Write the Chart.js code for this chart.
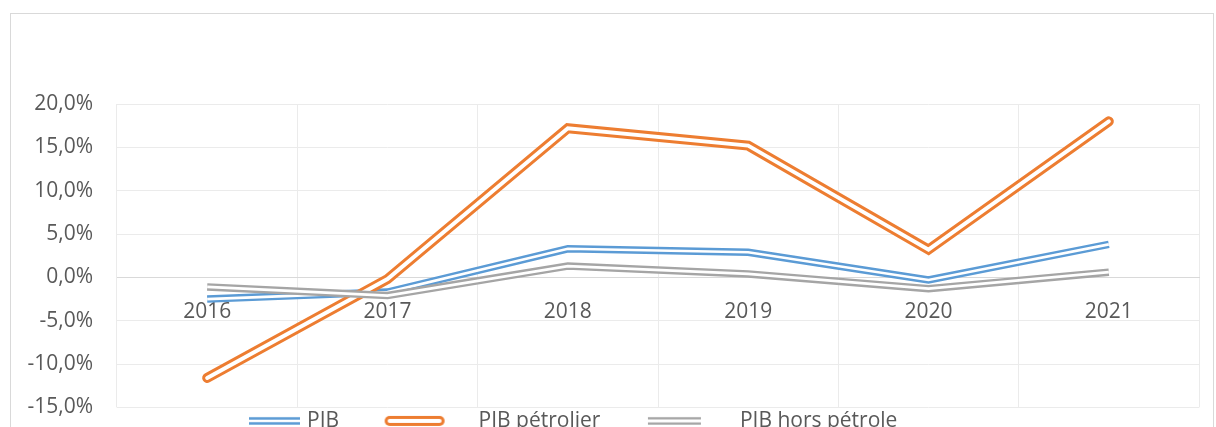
<!DOCTYPE html>
<html>
<head>
<meta charset="utf-8">
<script src="https://cdn.jsdelivr.net/npm/chart.js@4.4.0/dist/chart.umd.min.js"></script>
<style>
  html, body { margin: 0; padding: 0; background: #fff; overflow: hidden; }
  canvas { display: block; }
</style>
</head>
<body>
<canvas id="chart" width="1216" height="444"></canvas>
<script>
// values in %
const labels = ['2016', '2017', '2018', '2019', '2020', '2021']
const pib = [-2.5, -1.7, 3.3, 2.9, -0.3, 3.8]
const pibPetrolier = [-11.6, -0.2, 17.2, 15.2, 3.2, 18.0]
const pibHorsPetrole = [-1.1, -2.1, 1.3, 0.4, -1.3, 0.6]
const yTicks = [-15, -10, -5, 0, 5, 10, 15, 20]

const blue = '#5B9BD5'
const orange = '#ED7D31'
const grey = '#A5A5A5'
const textColor = '#595959'
const font = { family: 'Open Sans', size: 21 }

// small canvas used as legend symbol (double line), shifted by offset
function legendMark(color, total, gap, len, offset, cap) {
    const c = document.createElement('canvas')
    c.width = 2 * (Math.abs(offset) + len / 2 + 8)
    c.height = 16
    const g = c.getContext('2d')
    const cx = c.width / 2 + offset
    const cy = c.height / 2
    const inset = cap === 'round' ? total / 2 : 0
    g.lineCap = cap
    const strokes = [[color, total], ['#ffffff', gap]]
    strokes.forEach(([col, w]) => {
        g.strokeStyle = col
        g.lineWidth = w
        g.beginPath()
        g.moveTo(cx - len / 2 + inset, cy)
        g.lineTo(cx + len / 2 - inset, cy)
        g.stroke()
    })
    return c
}

const marks = [
    legendMark(blue, 7.5, 2.7, 51, 41, 'butt'),
    legendMark(orange, 10, 4, 60, 9.5, 'round'),
    legendMark(grey, 7.5, 2.8, 53, 8, 'butt')
]

// white line on top of each series -> excel "double" line
const doubleLine = {
    id: 'doubleLine',
    afterDatasetDraw(chart, args) {
        const line = args.meta.dataset
        const gap = chart.data.datasets[args.index].gapWidth
        if (!line || !gap) return
        const saved = line.options
        line.options = Object.assign({}, saved, { borderColor: '#ffffff', borderWidth: gap })
        line.draw(chart.ctx, chart.chartArea)
        line.options = saved
    }
}

const frame = {
    id: 'frame',
    beforeDraw(chart) {
        const ctx = chart.ctx
        ctx.save()
        ctx.fillStyle = '#ffffff'
        ctx.fillRect(0, 0, chart.width, chart.height)
        ctx.strokeStyle = '#D9D9D9'
        ctx.lineWidth = 1
        ctx.strokeRect(10.5, 13.5, 1203, 460)
        ctx.restore()
    }
}

const legendShift = {
    id: 'legendShift',
    afterLayout(chart) {
        const lg = chart.legend
        lg.left = 167.5
        lg.right = 1500
        lg.width = lg.right - lg.left
    }
}

new Chart(document.getElementById('chart'), {
    type: 'line',
    data: {
        labels: labels,
        datasets: [
            { label: 'PIB', data: pib, borderColor: blue, backgroundColor: blue, borderWidth: 7.5, gapWidth: 2.7, borderCapStyle: 'butt', order: 3 },
            { label: 'PIB pétrolier', data: pibPetrolier, borderColor: orange, backgroundColor: orange, borderWidth: 10, gapWidth: 4, borderCapStyle: 'round', order: 2 },
            { label: 'PIB hors pétrole', data: pibHorsPetrole, borderColor: grey, backgroundColor: grey, borderWidth: 7.5, gapWidth: 2.8, borderCapStyle: 'butt', order: 1 }
        ]
    },
    options: {
        responsive: false,
        animation: false,
        events: [],
        layout: { padding: { top: 104, right: 17, left: 0, bottom: 0 } },
        elements: {
            point: { radius: 0 },
            line: { tension: 0, fill: false, borderJoinStyle: 'miter' }
        },
        plugins: {
            tooltip: { enabled: false },
            legend: {
                position: 'bottom',
                align: 'start',
                labels: {
                    usePointStyle: true,
                    pointStyleWidth: 126,
                    padding: 3,
                    color: textColor,
                    font: font,
                    generateLabels: chart => chart.data.datasets.map((ds, i) => ({
                        text: ds.label,
                        pointStyle: marks[i],
                        fontColor: textColor,
                        fillStyle: 'transparent',
                        strokeStyle: 'transparent',
                        lineWidth: 0,
                        hidden: false,
                        datasetIndex: i
                    }))
                }
            }
        },
        scales: {
            x: {
                position: { y: 0 },
                offset: true,
                grid: { offset: true, color: '#EBEBEB', drawTicks: false, tickLength: 0 },
                border: { color: '#D9D9D9' },
                ticks: { color: textColor, font: font, padding: 22, maxRotation: 0, autoSkip: false }
            },
            y: {
                min: -15,
                max: 20,
                afterBuildTicks: s => { s.ticks = yTicks.map(v => ({ value: v })) },
                afterFit: s => { s.width = 117 },
                grid: { color: '#EBEBEB', drawTicks: false, tickLength: 0 },
                border: { display: false },
                ticks: {
                    color: textColor,
                    font: font,
                    padding: 24,
                    callback: v => v.toFixed(1).replace('.', ',') + '%'
                }
            }
        }
    },
    plugins: [frame, doubleLine, legendShift]
})
</script>
</body>
</html>
